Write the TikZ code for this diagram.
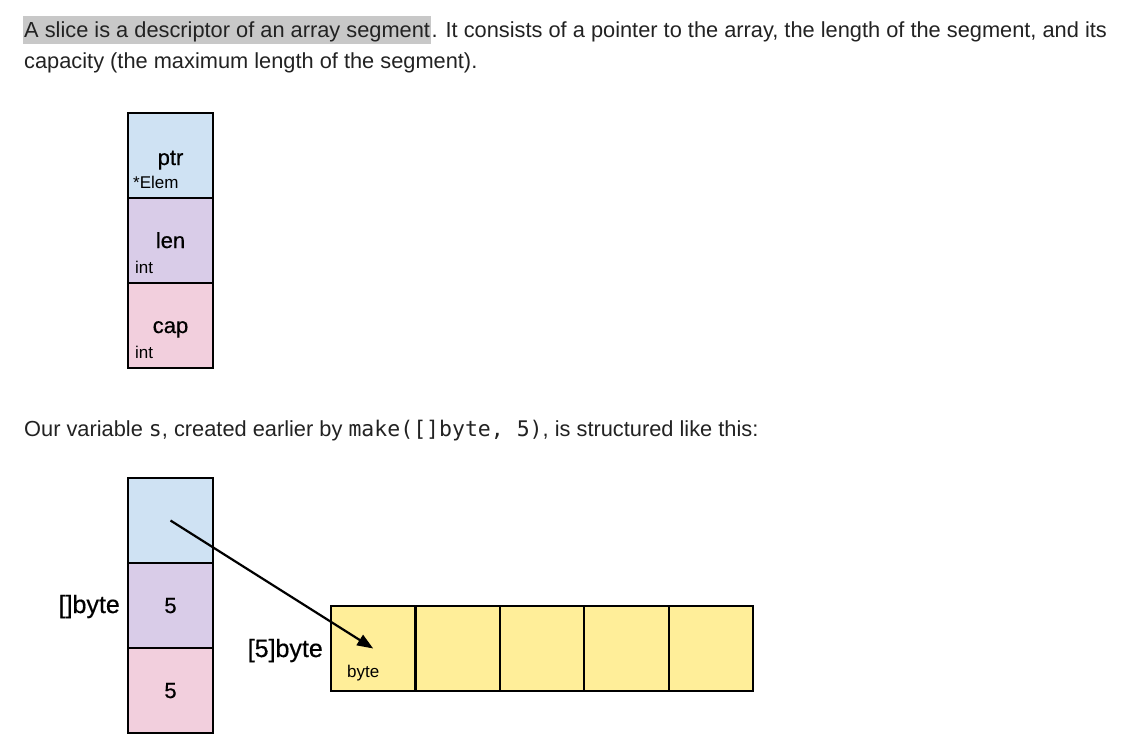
\documentclass[tikz,border=0pt]{standalone}
\usepackage{fontspec}
\setmainfont{Liberation Sans}
\setmonofont{DejaVu Sans Mono}
\newfontfamily\drawfont[FakeBold=0.5]{Liberation Sans}
\usetikzlibrary{arrows.meta, positioning, calc}
\definecolor{InkGray}{HTML}{222222}
\definecolor{MarkGray}{HTML}{C8C8C8}
\definecolor{PtrBlue}{HTML}{CFE2F3}
\definecolor{LenPurple}{HTML}{D9CCE8}
\definecolor{CapPink}{HTML}{F2CFDD}
\definecolor{ByteYellow}{HTML}{FFEE99}
\newcommand{\gocode}[1]{{\fontsize{21.5}{24}\ttfamily #1}}

\begin{document}
\begin{tikzpicture}[
    x=1pt, y=-1pt,
    node distance=0pt,
    prose/.style={anchor=base west, inner sep=0pt, text=InkGray,
                  font=\fontsize{21.8}{26}\selectfont},
    field/.style={draw=black, line width=2.2pt, outer sep=0pt, inner sep=0pt,
                  minimum width=85pt, minimum height=85pt},
    cell/.style={field, fill=ByteYellow, minimum width=84.4pt},
    fname/.style={anchor=base, inner sep=0pt, font=\drawfont\fontsize{22}{24}\selectfont},
    tname/.style={anchor=base east, inner sep=0pt, font=\drawfont\fontsize{25}{28}\selectfont},
    ftype/.style={anchor=base west, inner sep=0pt, font=\fontsize{17}{19}\selectfont},
    ptrarrow/.style={-{Triangle[length=16pt, width=12pt]}, line width=2.2pt}
]
    \useasboundingbox (0,0) rectangle (1148,748);

    % text above and between the pictures
    \node[prose, fill=MarkGray, inner xsep=1pt, text height=21pt, text depth=7pt]
        (mark) at (23,37) {A slice is a descriptor of an array segment};
    \node[prose] (line1) at (mark.base east)
        {. It consists of a pointer to the array, the length of the segment, and its};
    \node[prose] (line2) at (24,68) {capacity (the maximum length of the segment).};
    \node[prose] (line3) at (24,436)
        {Our variable \gocode{s}, created earlier by \gocode{make([]byte, 5)}, is structured like this:};

    % slice header
    \node[field, fill=PtrBlue, anchor=north west] (ptr) at (128,113) {};
    \node[field, fill=LenPurple, below=0pt of ptr] (len) {};
    \node[field, fill=CapPink, below=0pt of len] (cap) {};
    \node[fname] (ptrname) at ($(ptr.north)+(0,52)$) {ptr};
    \node[ftype] (ptrtype) at ($(ptr.north west)+(5,75)$) {*Elem};
    \node[fname] (lenname) at ($(len.north)+(0,50)$) {len};
    \node[ftype] (lentype) at ($(len.north west)+(7,75)$) {int};
    \node[fname] (capname) at ($(cap.north)+(0,50)$) {cap};
    \node[ftype] (captype) at ($(cap.north west)+(7,75)$) {int};

    % the slice s
    \node[field, fill=PtrBlue, anchor=north west] (sptr) at (128,478) {};
    \node[field, fill=LenPurple, below=0pt of sptr] (slen) {};
    \node[field, fill=CapPink, below=0pt of slen] (scap) {};
    \node[fname] (slenval) at ($(slen.north)+(0,50)$) {5};
    \node[fname] (scapval) at ($(scap.north)+(0,50)$) {5};
    \node[tname] (slicetype) at ($(slen.north west)+(-8,50)$) {[]byte};

    % the array behind it
    \node[cell, anchor=north west] (b0) at (331,606) {};
    \node[cell, right=0pt of b0] (b1) {};
    \node[cell, right=0pt of b1] (b2) {};
    \node[cell, right=0pt of b2] (b3) {};
    \node[cell, right=0pt of b3] (b4) {};
    \node[tname] (arraytype) at ($(b0.north west)+(-8,51)$) {[5]byte};
    \node[ftype] (elemtype) at ($(b0.north west)+(16,71)$) {byte};

    \draw[ptrarrow] (sptr.center) -- (b0.center);
\end{tikzpicture}
\end{document}
